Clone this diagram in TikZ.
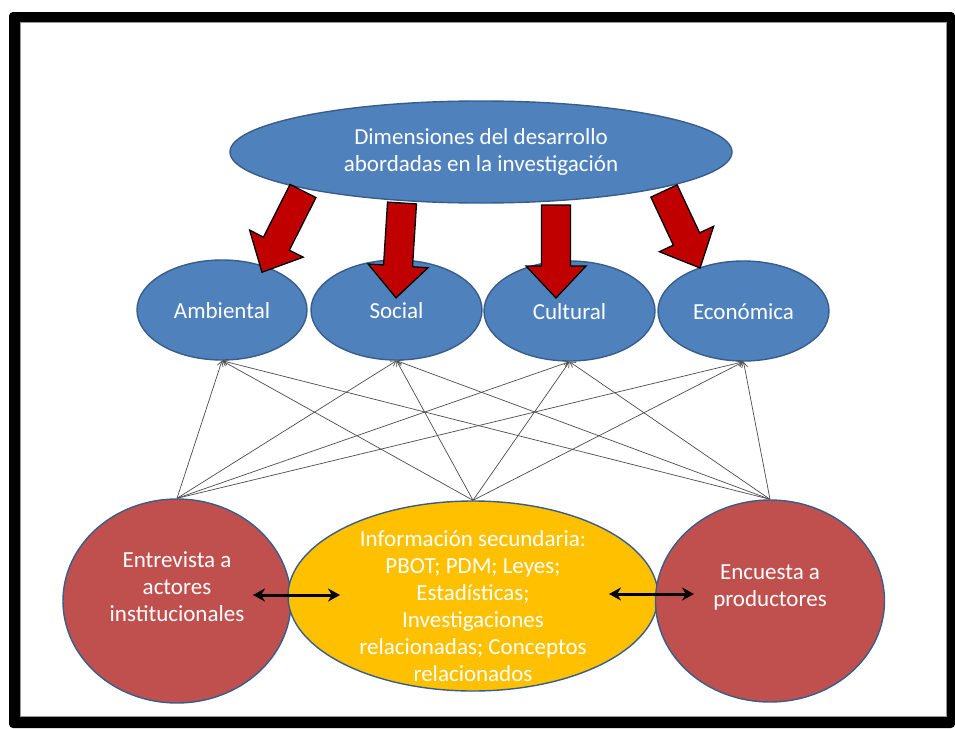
\documentclass[tikz,border=0pt]{standalone}
\usepackage{fontspec}
\setmainfont{Carlito}
\usetikzlibrary{shapes.geometric,arrows.meta}
\definecolor{bluefill}{HTML}{4F81BD}
\definecolor{blueline}{HTML}{385D8A}
\definecolor{redfill}{HTML}{C0504D}
\definecolor{yellowfill}{HTML}{FFC000}
\definecolor{arrowred}{HTML}{C00000}
\newcommand\redblockarrow[3]{%
  \draw[blockarrow, shift={(#1)}, rotate=#2]
    (-14.5,0) -- (-14.5,{#3-32}) -- (-30,{#3-32}) -- (0,#3) -- (30,{#3-32}) -- (14.5,{#3-32}) -- (14.5,0) -- cycle;}
\tikzset{
  txt/.style={text=white, font=\fontsize{23}{27}\selectfont, align=center, inner sep=0pt},
  oval/.style={ellipse, draw=blueline, line width=1.4pt, inner sep=0pt},
  bluenode/.style={oval, fill=bluefill, txt},
  dimnode/.style={bluenode, minimum width=171, minimum height=100, text height=21pt, text depth=5pt},
  rednode/.style={oval, fill=redfill},
  yellownode/.style={oval, fill=yellowfill},
  blockarrow/.style={fill=arrowred, draw=black, line width=1.3pt, line join=miter},
  thinlink/.style={draw=black!70, line width=0.7pt, -{Straight Barb[length=5pt,width=6pt]}},
  duallink/.style={draw=black, line width=3pt, {Stealth[length=12pt,width=13pt]}-{Stealth[length=12pt,width=13pt]}}
}
\begin{document}
\begin{tikzpicture}[x=1pt,y=-1pt]
\useasboundingbox (0,0) rectangle (955,728);
% frame
\fill[black, rounded corners=4pt] (9,12) rectangle (955,728);
\fill[white, draw=black!40, line width=0.6pt] (20,22) rectangle (946,716);

% top ellipse
\node[bluenode, minimum width=502, minimum height=102] (dim) at (481,152)
  {Dimensiones del desarrollo\\abordadas en la investigación};

% dimension circles
\node[dimnode, minimum width=170] (amb) at (222,310) {Ambiental};
\node[dimnode] (soc) at (396.5,310) {Social};
\node[dimnode] (cul) at (569.5,311) {Cultural};
\node[dimnode] (eco) at (743.5,311) {Económica};

% red block arrows
\redblockarrow{303,191}{-26.8}{91}
\redblockarrow{402,203}{-3.6}{95}
\redblockarrow{556,205}{0}{93}
\redblockarrow{664,191}{25.1}{85}

% bottom nodes
\node[rednode, minimum width=228, minimum height=204] (ent) at (177,601) {};
\node[yellownode, minimum width=370, minimum height=190] (inf) at (473,596) {};
\node[rednode, minimum width=229, minimum height=202] (enc) at (770,601) {};

\node[txt] (entt) at (177,587) {Entrevista a\\actores\\institucionales};
\node[txt] (inft) at (473,606) {Información secundaria:\\PBOT; PDM; Leyes;\\Estadísticas;\\Investigaciones\\relacionadas; Conceptos\\relacionados};
\node[txt] (enct) at (770,587) {Encuesta a\\productores};

% thin connectors
\foreach \s in {ent,inf,enc}{
  \foreach \t in {amb,soc,cul,eco}{
    \draw[thinlink] (\s.north) -- (\t.south);
  }
}

% double arrows
\coordinate (la) at (253,595);
\coordinate (lb) at (340,595);
\coordinate (ra) at (609,594);
\coordinate (rb) at (694,594);
\draw[duallink] (la) -- (lb);
\draw[duallink] (ra) -- (rb);
\end{tikzpicture}
\end{document}
